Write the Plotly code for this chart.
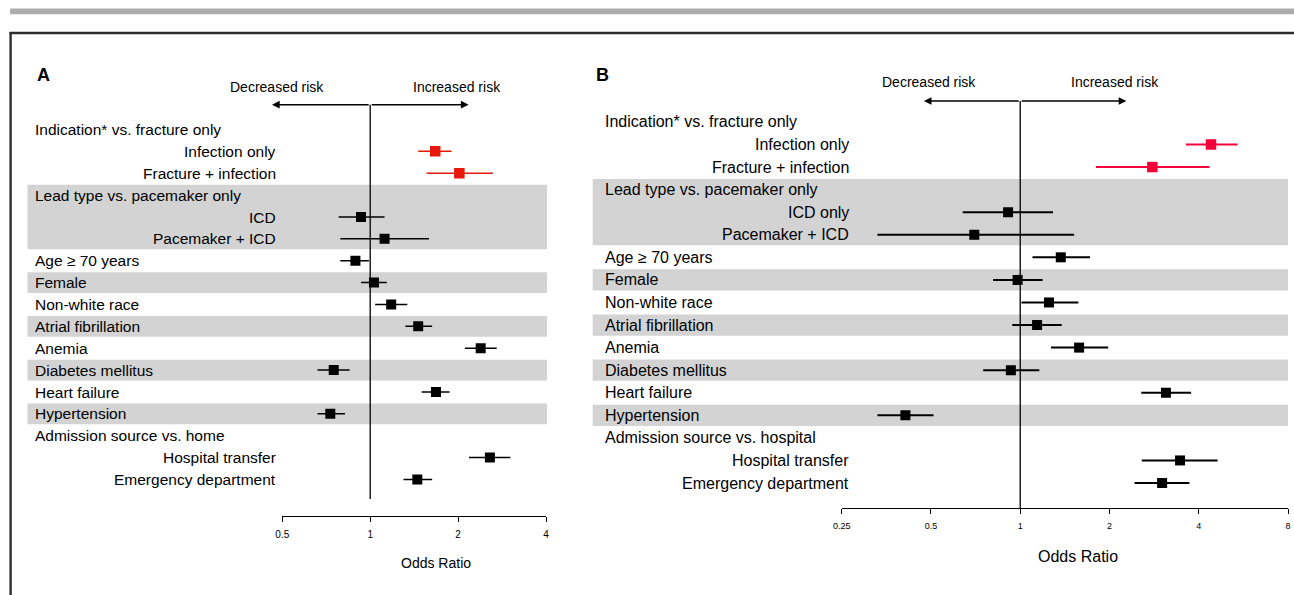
import math
import plotly.graph_objects as go

# ---------------- data ----------------
A_LABELS = ["Indication* vs. fracture only", "Infection only", "Fracture + infection",
            "Lead type vs. pacemaker only", "ICD", "Pacemaker + ICD",
            "Age ≥ 70 years", "Female", "Non-white race", "Atrial fibrillation",
            "Anemia", "Diabetes mellitus", "Heart failure", "Hypertension",
            "Admission source vs. home", "Hospital transfer", "Emergency department"]
A_SUB = [False, True, True, False, True, True, False, False, False, False,
         False, False, False, False, False, True, True]
A_OR = [None, 1.67, 2.02, None, 0.93, 1.12, 0.89, 1.03, 1.18, 1.46,
        2.39, 0.75, 1.68, 0.73, None, 2.57, 1.45]
A_LO = [None, 1.46, 1.56, None, 0.78, 0.79, 0.79, 0.93, 1.04, 1.32,
        2.11, 0.66, 1.50, 0.66, None, 2.18, 1.30]
A_HI = [None, 1.90, 2.63, None, 1.12, 1.59, 0.99, 1.14, 1.34, 1.63,
        2.71, 0.85, 1.87, 0.82, None, 3.02, 1.63]

B_LABELS = ["Indication* vs. fracture only", "Infection only", "Fracture + infection",
            "Lead type vs. pacemaker only", "ICD only", "Pacemaker + ICD",
            "Age ≥ 70 years", "Female", "Non-white race", "Atrial fibrillation",
            "Anemia", "Diabetes mellitus", "Heart failure", "Hypertension",
            "Admission source vs. hospital", "Hospital transfer", "Emergency department"]
B_SUB = A_SUB
B_OR = [None, 4.40, 2.79, None, 0.91, 0.70, 1.37, 0.98, 1.25, 1.14,
        1.58, 0.93, 3.10, 0.41, None, 3.46, 3.01]
B_LO = [None, 3.62, 1.80, None, 0.64, 0.33, 1.10, 0.81, 1.01, 0.94,
        1.27, 0.75, 2.56, 0.33, None, 2.57, 2.43]
B_HI = [None, 5.41, 4.35, None, 1.29, 1.52, 1.72, 1.19, 1.57, 1.38,
        1.98, 1.16, 3.77, 0.51, None, 4.63, 3.72]

HIGHLIGHT_ROWS = [1, 2]                      # indication rows (red)
SHADED = [(3, 5), (7, 7), (9, 9), (11, 11), (13, 13)]
A_TICKS = [0.5, 1, 2, 4]
B_TICKS = [0.25, 0.5, 1, 2, 4, 8]

# ---------------- layout helpers ----------------
W, H = 1294, 595
def px(x): return x / W
def py(y): return 1 - y / H

FONT = "Liberation Sans, Arial, Helvetica, sans-serif"

fig = go.Figure()

panels = [
    dict(labels=A_LABELS, sub=A_SUB, orv=A_OR, lo=A_LO, hi=A_HI, xa="x", ya="y",
         xdom=(282.3, 546.0), rng=(0.5, 4), ticks=A_TICKS, axis_y=516.0,
         row0=129.5, drow=21.875, head_x=33, sub_x=277.5, band=(27.5, 547.0),
         ref_top=104.7, ref_bot=499.0, arrow=(272.0, 468.6), txt_y=87.3,
         dec_x=277, inc_x=457, letter="A", letter_x=43, red="#e8170c",
         lab_size=15.5, tick_size=10, or_size=14, or_x=435.7, or_y=562.7, cw=1.5),
    dict(labels=B_LABELS, sub=B_SUB, orv=B_OR, lo=B_LO, hi=B_HI, xa="x2", ya="y2",
         xdom=(841.7, 1288.0), rng=(0.25, 8), ticks=B_TICKS, axis_y=508.3,
         row0=121.9, drow=22.57, head_x=603, sub_x=850.5, band=(592.7, 1288.0),
         ref_top=101.0, ref_bot=508.3, arrow=(923.8, 1126.4), txt_y=82.3,
         dec_x=929, inc_x=1114.6, letter="B", letter_x=602, red="#f4003a",
         lab_size=16, tick_size=9, or_size=16, or_x=1078, or_y=556.7, cw=2.0),
]

shapes = []
annotations = []

# top decoration + box
shapes.append(dict(type="rect", xref="paper", yref="paper", x0=px(10), x1=1,
                   y0=py(14.3), y1=py(8.5), fillcolor="#adadad", line_width=0))
shapes.append(dict(type="line", xref="paper", yref="paper", x0=px(9.5), x1=1,
                   y0=py(33), y1=py(33), line=dict(color="#2e2e2e", width=2.4)))
shapes.append(dict(type="line", xref="paper", yref="paper", x0=px(10.6), x1=px(10.6),
                   y0=py(32), y1=0, line=dict(color="#2e2e2e", width=2.4)))

for i, p in enumerate(panels):
    n = len(p["labels"])
    rows = list(range(n))
    axn = "" if i == 0 else "2"
    ylo = (H - p["row0"]) / p["drow"]
    yhi = -p["row0"] / p["drow"]
    lg0, lg1 = math.log10(p["rng"][0]), math.log10(p["rng"][1])
    fig.update_layout(**{
        "xaxis" + axn: dict(type="log", domain=[px(p["xdom"][0]), px(p["xdom"][1])],
                            range=[lg0, lg1], automargin=False,
                            tickvals=p["ticks"], ticktext=[f"{t:g}" for t in p["ticks"]],
                            ticks="outside", ticklen=5, tickwidth=1.3, tickcolor="black",
                            showline=True, linecolor="black", linewidth=1.3,
                            showgrid=False, zeroline=False, anchor="free",
                            position=py(p["axis_y"]), ticklabelstandoff=4,
                            tickfont=dict(size=p["tick_size"], color="black", family=FONT)),
        "yaxis" + axn: dict(domain=[0, 1], range=[ylo, yhi], visible=False,
                            automargin=False, anchor=p["xa"], fixedrange=True),
    })

    # shaded bands
    for a, b in SHADED:
        shapes.append(dict(type="rect", xref="paper", yref=p["ya"], layer="below",
                           x0=px(p["band"][0]), x1=px(p["band"][1]),
                           y0=a - 0.47, y1=b + 0.47, fillcolor="#d3d3d3", line_width=0))
    # reference line at OR = 1
    shapes.append(dict(type="line", xref=p["xa"], yref="paper", layer="below",
                       x0=1, x1=1, y0=py(p["ref_bot"]), y1=py(p["ref_top"]),
                       line=dict(color="black", width=1.3)))

    # markers: black and red
    for red in (False, True):
        idx = [r for r in rows if p["orv"][r] is not None and ((r in HIGHLIGHT_ROWS) == red)]
        col = p["red"] if red else "black"
        fig.add_trace(go.Scatter(
            x=[p["orv"][r] for r in idx], y=idx, mode="markers",
            xaxis=p["xa"], yaxis=p["ya"], showlegend=False, hoverinfo="skip",
            marker=dict(symbol="square", size=10 if not red else 10.5, color=col,
                        line=dict(width=0)),
            error_x=dict(type="data", symmetric=False,
                         array=[p["hi"][r] - p["orv"][r] for r in idx],
                         arrayminus=[p["orv"][r] - p["lo"][r] for r in idx],
                         color=col, thickness=p["cw"], width=0),
        ))

    # row labels
    for r in rows:
        if p["sub"][r]:
            annotations.append(dict(xref="paper", yref=p["ya"], x=px(p["sub_x"]), y=r,
                                    text=p["labels"][r], showarrow=False, xanchor="right",
                                    yanchor="middle",
                                    font=dict(size=p["lab_size"], color="black", family=FONT)))
        else:
            annotations.append(dict(xref="paper", yref=p["ya"], x=px(p["head_x"]), y=r,
                                    text=p["labels"][r], showarrow=False, xanchor="left",
                                    yanchor="middle",
                                    font=dict(size=p["lab_size"], color="black", family=FONT)))

    # risk arrows (start at OR = 1 on the axis scale)
    cx = p["xdom"][0] + (p["xdom"][1] - p["xdom"][0]) * (0 - lg0) / (lg1 - lg0)
    for end in p["arrow"]:
        annotations.append(dict(xref="paper", yref="paper", x=px(end), y=py(p["ref_top"]),
                                ax=cx - end, ay=0, axref="pixel", ayref="pixel",
                                text="", showarrow=True, arrowhead=2, arrowsize=1.1,
                                arrowwidth=1.4, arrowcolor="black", standoff=0))
    annotations.append(dict(xref="paper", yref="paper", x=px(p["dec_x"]), y=py(p["txt_y"]),
                            text="Decreased risk", showarrow=False, xanchor="center",
                            yanchor="middle", font=dict(size=14, color="black", family=FONT)))
    annotations.append(dict(xref="paper", yref="paper", x=px(p["inc_x"]), y=py(p["txt_y"]),
                            text="Increased risk", showarrow=False, xanchor="center",
                            yanchor="middle", font=dict(size=14, color="black", family=FONT)))
    # panel letter
    annotations.append(dict(xref="paper", yref="paper", x=px(p["letter_x"]), y=py(75),
                            text="<b>" + p["letter"] + "</b>", showarrow=False,
                            xanchor="center", yanchor="middle",
                            font=dict(size=18, color="black", family=FONT)))
    # axis title
    annotations.append(dict(xref="paper", yref="paper", x=px(p["or_x"]), y=py(p["or_y"]),
                            text="Odds Ratio", showarrow=False, xanchor="center",
                            yanchor="middle",
                            font=dict(size=p["or_size"], color="black", family=FONT)))

fig.update_layout(width=W, height=H,
                  margin=dict(l=0, r=0, t=0, b=0, pad=0, autoexpand=False),
                  paper_bgcolor="white", plot_bgcolor="rgba(0,0,0,0)",
                  shapes=shapes, annotations=annotations,
                  font=dict(family=FONT, color="black"), showlegend=False)

fig.write_html("out.html", config={"responsive": False, "displayModeBar": False},
               post_script="document.body.style.margin='0';"
                           "document.body.style.overflow='hidden';"
                           "document.documentElement.style.overflow='hidden';")
